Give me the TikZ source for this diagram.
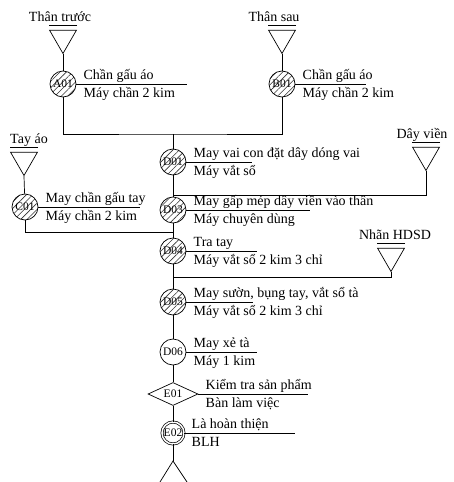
\documentclass[tikz,border=0pt]{standalone}
\usepackage{fontspec}
\setmainfont{Liberation Serif}
\usetikzlibrary{shapes.geometric,patterns.meta}

\begin{document}
\begin{tikzpicture}[x=1pt, y=-1pt, line width=0.7pt,
    every node/.style={font=\fontsize{14}{16}\selectfont},
    src/.style={draw, regular polygon, regular polygon sides=3, shape border rotate=180,
      minimum size=31pt, inner sep=0pt},
    srclbl/.style={anchor=base, inner sep=0pt},
    op/.style={draw, circle, minimum size=26pt, inner sep=0pt, font=\fontsize{11.5}{12}\selectfont},
    hop/.style={op, pattern={Lines[angle=45, distance=4.5pt, line width=0.6pt]}, pattern color=black!80},
    chk/.style={draw, diamond, aspect=2.2, minimum width=50pt, minimum height=23pt,
      inner sep=0pt, font=\fontsize{11.5}{12}\selectfont},
    fin/.style={op, double, double distance=1.5pt, minimum size=22pt},
    upper/.style={anchor=base west, inner sep=0pt, xshift=7pt, yshift=5pt},
    lower/.style={anchor=base west, inner sep=0pt, xshift=7pt, yshift=-13pt}]

    \useasboundingbox (0,0) rectangle (454,482);

    % operations
    \foreach \id/\pos/\sty/\seplen/\lineA/\lineB in {
        A01/{63,84}/hop/111/{Chần gấu áo}/{Máy chần 2 kim},
        B01/{282,84}/hop/71/{Chần gấu áo}/{Máy chần 2 kim},
        C01/{25,207}/hop/102/{May chần gấu tay}/{Máy chần 2 kim},
        D01/{173,162}/hop/66/{May vai con đặt dây dóng vai}/{Máy vắt sổ},
        D03/{173,210}/hop/124/{May gấp mép dây viền vào thân}/{Máy chuyên dùng},
        D04/{173,251}/hop/71/{Tra tay}/{Máy vắt sổ 2 kim 3 chỉ},
        D05/{173,302}/hop/67/{May sườn, bụng tay, vắt sổ tà}/{Máy vắt sổ 2 kim 3 chỉ},
        D06/{173,352}/op/71/{May xẻ tà}/{Máy 1 kim},
        E01/{173,394}/chk/110/{Kiểm tra sản phẩm}/{Bàn làm việc},
        E02/{173,433}/fin/111/{Là hoàn thiện}/{BLH}}
    {
      \node[\sty] (\id) at (\pos) {\id};
      \draw (\id.east) -- ++(\seplen,0);
      \node[upper] at (\id.east) {\lineA};
      \node[lower] at (\id.east) {\lineB};
    }

    % materials
    \foreach \id/\pos/\dx/\txt in {
        TT/{63,38}/-3/Thân trước,
        TS/{282,38}/-8/Thân sau,
        TA/{24,160}/5/Tay áo,
        DV/{426,155}/-4/Dây viền,
        NH/{391,256}/4/Nhãn HDSD}
    {
      \node[src] (\id) at (\pos) {};
      \draw ([yshift=5pt]\id.corner 2) -- ([yshift=5pt]\id.corner 3);
      \node[srclbl, xshift=\dx pt] at ([yshift=8pt]\id.north) {\txt};
    }

    \coordinate (m1) at (173,134);
    \coordinate (m2) at (173,195);
    \coordinate (m3) at (173,232);
    \coordinate (m4) at (173,277);
    \coordinate (tail) at (173,461);
    \coordinate (tailL) at (160,482);
    \coordinate (tailR) at (187,482);

    \draw (TT.corner 1) -- (A01);
    \draw (TS.corner 1) -- (B01);
    \draw (TA.corner 1) -- (C01);
    \draw (A01) |- (m1) -| (B01);
    \draw (DV.corner 1) |- (m2);
    \draw (C01) |- (m3);
    \draw (NH.corner 1) |- (m4);
    \draw (m1) -- (D01) -- (D03) -- (D04) -- (D05) -- (D06) -- (E01) -- (E02) -- (tail);
    \draw (tailL) -- (tail) -- (tailR);
\end{tikzpicture}
\end{document}
